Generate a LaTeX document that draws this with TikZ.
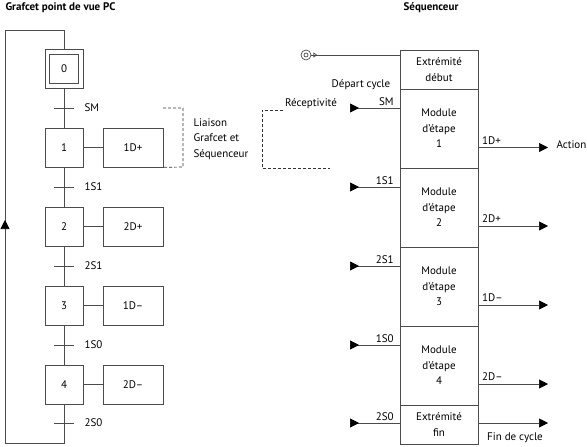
\documentclass[tikz,border=0pt]{standalone}
\usepackage{fontspec}
\setmainfont{PT Sans}
\usetikzlibrary{arrows.meta,positioning}
\tikzset{
  stepbox/.style={draw=black!70, line width=0.7pt, minimum width=38pt, minimum height=39pt, inner sep=0pt},
  actbox/.style={draw=black!70, line width=0.7pt, minimum width=60pt, minimum height=39pt, inner sep=0pt},
  modbox/.style={draw=black!70, line width=0.7pt, minimum width=78pt, minimum height=79pt, inner sep=0pt, outer sep=0pt, align=center},
  endbox/.style={modbox, minimum height=39pt},
  link/.style={draw=black!70, line width=0.7pt},
  tip/.style={-{Triangle[length=9pt,width=9pt,black]}},
  dashlink/.style={draw=black!80, line width=0.7pt, dash pattern=on 3pt off 2pt},
  titletext/.style={font=\fontsize{11}{12}\selectfont\bfseries},
}
\begin{document}
\begin{tikzpicture}[x=1pt,y=-1pt,font=\fontsize{11}{15.5}\selectfont]
\useasboundingbox (0,0) rectangle (587,447);
% titles
\node[titletext, anchor=west] (titlePC) at (2,8) {Grafcet point de vue PC};
\node[titletext] (titleSeq) at (431,8) {Séquenceur};

% grafcet PC
\node[stepbox] (step0) at (64,69) {0};
\node[stepbox, minimum width=29pt, minimum height=29pt] (step0in) at (step0) {};
\node[stepbox] (step1) at (64,147.5) {1};
\node[stepbox] (step2) at (64,226.5) {2};
\node[stepbox] (step3) at (64,305.5) {3};
\node[stepbox] (step4) at (64,384.5) {4};
\node[actbox] (act1) at (133,147.5) {1D+};
\node[actbox] (act2) at (133,226.5) {2D+};
\node[actbox] (act3) at (133,305.5) {1D–};
\node[actbox] (act4) at (133,384.5) {2D–};
\draw[link] (step0) -- (step1) -- (step2) -- (step3) -- (step4);
\draw[link] (step1) -- (act1);
\draw[link] (step2) -- (act2);
\draw[link] (step3) -- (act3);
\draw[link] (step4) -- (act4);
\foreach \i/\y/\t in {0/108/SM,1/187/1S1,2/266/2S1,3/345/1S0,4/423/2S0} {
  \draw[link] (54,\y) -- (74,\y);
  \node[anchor=west] (tr\i) at (81,\y) {\t};
}
% loop back
\coordinate (loopbot) at (5,443);
\coordinate (looptop) at (5,30);
\draw[link] (step4) |- (loopbot) -- (looptop) -| (step0);
\draw[link,tip] (loopbot) -- (5,220);

% liaison
\draw[dashlink] (163,108) -- (183,108) -- (183,167) -- (act1.south east);
\node[anchor=west, align=left] (liaison) at (190,139) {Liaison\\Grafcet et\\Séquenceur};
\draw[dashlink] (283,110) -- (262,110) -- (262,168) -- (330,168);
\node (recept) at (311,104) {Réceptivité};

% sequenceur
\node[endbox] (debut) at (439,69.5) {Extrémité\\début};
\node[modbox, below=0pt of debut] (mod1) {Module\\d’étape\\1};
\node[modbox, below=0pt of mod1] (mod2) {Module\\d’étape\\2};
\node[modbox, below=0pt of mod2] (mod3) {Module\\d’étape\\3};
\node[modbox, below=0pt of mod3] (mod4) {Module\\d’étape\\4};
\node[endbox, below=0pt of mod4] (fin) {Extrémité\\fin};

\node[circle, draw=black!70, line width=0.7pt, minimum size=10pt, inner sep=0pt] (startin) at (306,55) {};
\node[circle, draw=black!70, line width=0.7pt, minimum size=4pt, inner sep=0pt] (startdot) at (startin) {};
\draw[link] (startin) -- (debut.west |- startin);
\draw[link,-{Triangle[open,length=4pt,width=5pt]}] (startin.east) -- ++(6,0);
\node (depart) at (361,85) {Départ cycle};

\foreach \i/\y/\t/\m in {0/108/SM/mod1,1/187/1S1/mod2,2/266/2S1/mod3,3/345/1S0/mod4,4/423/2S0/fin} {
  \coordinate (in\i) at (350,\y);
  \draw[link] (in\i) -- (\m.west |- in\i) node[above left, inner sep=1pt, xshift=-5pt, yshift=1pt] (inlab\i) {\t};
  \draw[link,tip] (in\i) -- ++(9,0);
}
\foreach \i/\y/\t in {1/147.5/1D+,2/226/2D+,3/305/1D–,4/384/2D–} {
  \coordinate (out\i) at (548,\y);
  \draw[link,tip] (mod\i.east |- out\i) -- (out\i);
  \node[anchor=south west, inner sep=1pt] (outlab\i) at ([xshift=3pt,yshift=2pt]mod\i.east |- out\i) {\t};
}
\node[anchor=west] (action) at (553,145) {Action};
\coordinate (outfin) at (548,423);
\draw[link,tip] (fin.east |- outfin) -- (outfin);
\node (finlab) at (515,438) {Fin de cycle};
\end{tikzpicture}
\end{document}
